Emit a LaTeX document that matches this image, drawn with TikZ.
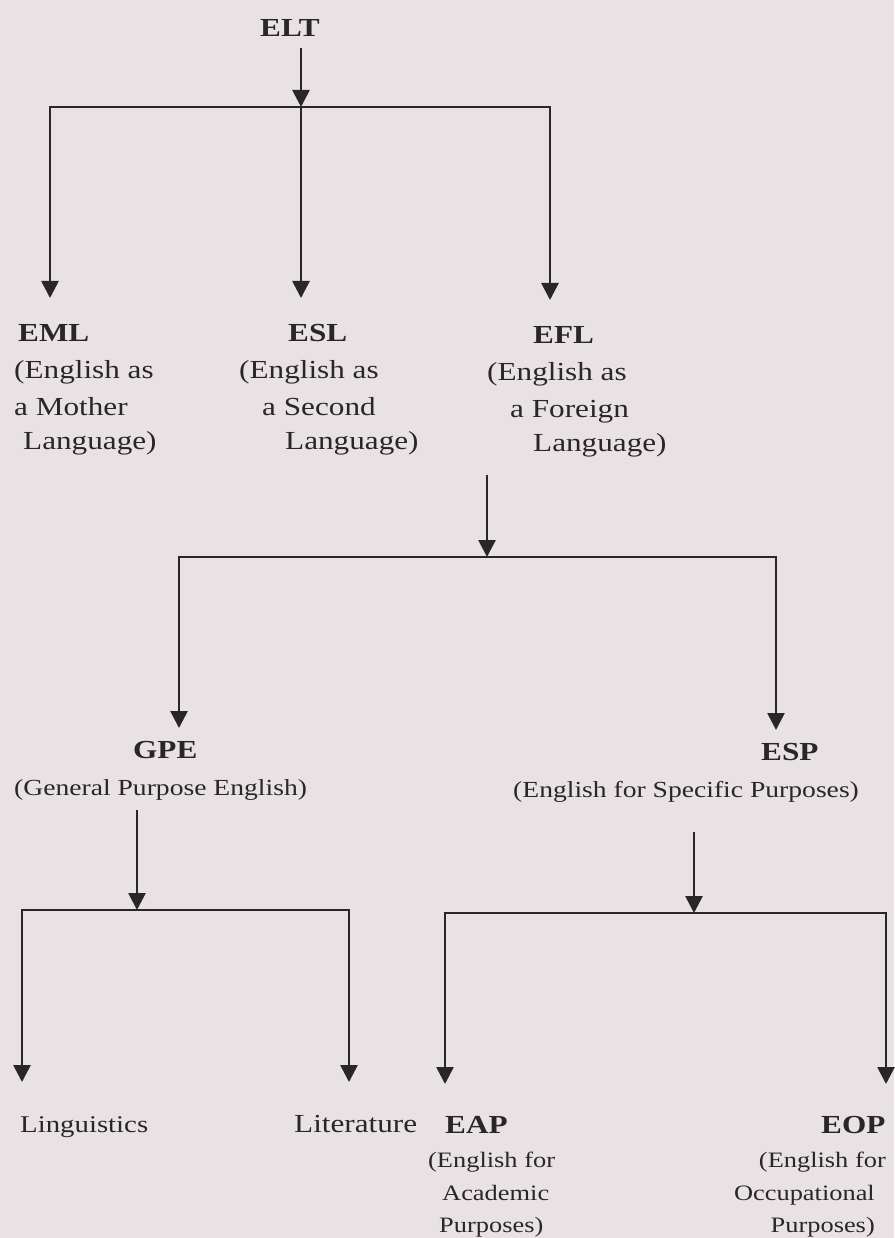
\documentclass[tikz,border=0pt]{standalone}
\usepackage{fontspec}
\setmainfont{Liberation Serif}[FakeStretch=1.2]
\usetikzlibrary{arrows.meta}
\definecolor{paper}{RGB}{233,226,228}
\definecolor{ink}{RGB}{40,38,40}
\begin{document}
\begin{tikzpicture}[x=1pt,y=-1pt,
  lbl/.style={inner sep=0pt, anchor=base west, text=ink, font=\fontsize{26}{30}\selectfont},
  head/.style={lbl, font=\fontsize{26}{30}\selectfont\bfseries},
  sub/.style={lbl, font=\fontsize{23}{27}\selectfont},
  ssub/.style={lbl, font=\fontsize{22}{26}\selectfont},
  ln/.style={draw=ink, line width=2.7pt},
  arr/.style={ln, -{Triangle[width=17pt,length=17pt]}}]
\fill[paper] (0,0) rectangle (894,1238);
\useasboundingbox (0,0) rectangle (894,1238);

% ---- labels ----
\node[head] (elt) at (260,37) {ELT};

\node[head] (eml)  at (18,341) {EML};
\node[lbl]  (eml2) at (14,378) {(English as};
\node[lbl]  (eml3) at (14,415) {a Mother};
\node[lbl]  (eml4) at (23,449) {Language)};

\node[head] (esl)  at (288,341) {ESL};
\node[lbl]  (esl2) at (239,378) {(English as};
\node[lbl]  (esl3) at (262,415) {a Second};
\node[lbl]  (esl4) at (285,449) {Language)};

\node[head] (efl)  at (533,343) {EFL};
\node[lbl]  (efl2) at (487,380) {(English as};
\node[lbl]  (efl3) at (510,417) {a Foreign};
\node[lbl]  (efl4) at (533,451) {Language)};

\node[head] (gpe)  at (133,758) {GPE};
\node[sub]  (gpe2) at (14,795) {(General Purpose English)};

\node[head] (esp)  at (761,760) {ESP};
\node[sub]  (esp2) at (513,797) {(English for Specific Purposes)};

\node[lbl, font=\fontsize{24}{28}\selectfont] (ling) at (20,1132) {Linguistics};
\node[lbl]  (lit)  at (294,1132) {Literature};
\node[head] (eap)  at (445,1133) {EAP};
\node[ssub] (eap2) at (428,1167) {(English for};
\node[ssub] (eap3) at (442,1200) {Academic};
\node[ssub] (eap4) at (439,1232) {Purposes)};
\node[head] (eop)  at (821,1133) {EOP};
\node[ssub, anchor=base east] (eop2) at (886,1167) {(English for};
\node[ssub, anchor=base east] (eop3) at (875,1200) {Occupational};
\node[ssub, anchor=base east] (eop4) at (875,1232) {Purposes)};

% ---- junction coordinates ----
\coordinate (s1) at (301,48);
\coordinate (b1m) at (301,107);
\coordinate (b1l) at (50,107);
\coordinate (b1r) at (550,107);
\coordinate (t1l) at (50,298);
\coordinate (t1m) at (301,298);
\coordinate (t1r) at (550,300);

\coordinate (s2) at (487,475);
\coordinate (b2m) at (487,557);
\coordinate (b2l) at (179,557);
\coordinate (b2r) at (776,557);
\coordinate (t2l) at (179,728);
\coordinate (t2r) at (776,730);

\coordinate (s3) at (137,810);
\coordinate (b3m) at (137,910);
\coordinate (b3l) at (22,910);
\coordinate (b3r) at (349,910);
\coordinate (t3l) at (22,1082);
\coordinate (t3r) at (349,1082);

\coordinate (s4) at (694,832);
\coordinate (b4m) at (694,913);
\coordinate (b4l) at (445,913);
\coordinate (b4r) at (886,913);
\coordinate (t4l) at (445,1084);
\coordinate (t4r) at (886,1084);

% ---- connectors ----
\draw[arr] (s1) -- (b1m);
\draw[arr] (b1m) -- (b1l) -- (t1l);
\draw[arr] (b1m) -- (t1m);
\draw[arr] (b1m) -- (b1r) -- (t1r);

\draw[arr] (s2) -- (b2m);
\draw[arr] (b2m) -- (b2l) -- (t2l);
\draw[arr] (b2m) -- (b2r) -- (t2r);

\draw[arr] (s3) -- (b3m);
\draw[arr] (b3m) -- (b3l) -- (t3l);
\draw[arr] (b3m) -- (b3r) -- (t3r);

\draw[arr] (s4) -- (b4m);
\draw[arr] (b4m) -- (b4l) -- (t4l);
\draw[arr] (b4m) -- (b4r) -- (t4r);
\end{tikzpicture}
\end{document}
